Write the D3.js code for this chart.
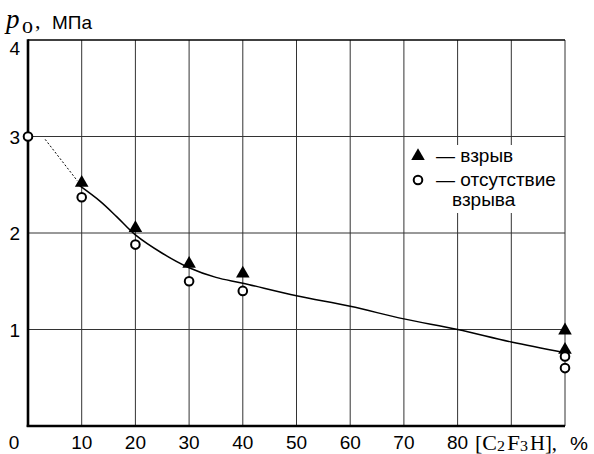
<!DOCTYPE html>
<html><head><meta charset="utf-8">
<script src="https://cdn.jsdelivr.net/npm/d3@7"></script>
<style>body{margin:0;background:#fff}svg{display:block}</style>
</head><body>
<svg id="c" width="594" height="454"></svg>
<script>
const xTickValues = [0,10,20,30,40,50,60,70,80,90,100];
const xTickLabels = ["0","10","20","30","40","50","60","70","80"];
const yTickValues = [1,2,3,4];
const yTickLabels = ["1","2","3","4"];
const explosionX = [10,20,30,40,100,100];
const explosionY = [2.52,2.05,1.68,1.58,0.99,0.79];
const noExplX = [0,10,20,30,40,100,100];
const noExplY = [3.0,2.37,1.88,1.50,1.40,0.72,0.60];
const curveX = [9.6,13.4,16.5,20,25,30,35,40,50,60,70,80,90,100];
const curveY = [2.49,2.33,2.17,1.98,1.79,1.64,1.54,1.48,1.35,1.24,1.11,1.0,0.87,0.76];
const dotX = [3.2,9.2];
const dotY = [2.97,2.54];
const legendLabels = ["— взрыв","— отсутствие","взрыва"];

const svg = d3.select("#c");
const x = d3.scaleLinear().domain([0,100]).range([28,565]);
const y = d3.scaleLinear().domain([0,4]).range([426,40]);
const font = "Arial, 'Liberation Sans', sans-serif";
const serif = "'Liberation Serif','DejaVu Serif',serif";

// grid
const g = svg.append("g");
g.selectAll(".vg").data(xTickValues.slice(1)).join("line")
  .attr("x1",d=>x(d)).attr("x2",d=>x(d)).attr("y1",y(0)).attr("y2",y(4))
  .attr("stroke","#333").attr("stroke-width",1);
g.selectAll(".hg").data(yTickValues.slice(0,3)).join("line")
  .attr("x1",x(0)).attr("x2",x(100)).attr("y1",d=>y(d)).attr("y2",d=>y(d))
  .attr("stroke","#333").attr("stroke-width",1);
// top border
svg.append("line").attr("x1",x(0)).attr("x2",x(100)).attr("y1",y(4)).attr("y2",y(4))
  .attr("stroke","#000").attr("stroke-width",1.6);
// axes
svg.append("line").attr("x1",x(0)).attr("x2",x(0)).attr("y1",y(0)+1).attr("y2",y(4)-0.8)
  .attr("stroke","#000").attr("stroke-width",2.6);
svg.append("line").attr("x1",x(0)-1.3).attr("x2",x(100)).attr("y1",y(0)).attr("y2",y(0))
  .attr("stroke","#000").attr("stroke-width",2.6);

// legend background
svg.append("rect").attr("x",410).attr("y",145).attr("width",148).attr("height",68).attr("fill","#fff");

// tick labels
svg.selectAll(".xt").data(xTickLabels).join("text")
  .attr("x",(d,i)=> i===0 ? x(+d)-14 : x(+d)).attr("y",449)
  .attr("text-anchor","middle").attr("font-family",font).attr("font-size",19).text(d=>d);
svg.selectAll(".yt").data(yTickLabels).join("text")
  .attr("x",20).attr("y",d=> +d===4 ? y(+d)+15 : y(+d)+7)
  .attr("text-anchor","end").attr("font-family",font).attr("font-size",19).text(d=>d);

// axis titles
svg.append("text").attr("x",6).attr("y",28).attr("font-family",serif).attr("font-style","italic")
  .attr("font-size",27).text("p");
svg.append("text").attr("x",22).attr("y",33).attr("font-family",serif).attr("font-size",17)
  .attr("textLength",11).attr("lengthAdjust","spacingAndGlyphs").text("0");
svg.append("text").attr("x",35).attr("y",28).attr("font-family",serif).attr("font-size",22).text(",");
svg.append("text").attr("x",52).attr("y",29).attr("font-family",font).attr("font-size",19)
  .attr("textLength",40).attr("lengthAdjust","spacingAndGlyphs").text("МПа");

const xl = [["[C",475,450,21,22,serif],["2",497,451,15,8,serif],["F",507,450,21,13,serif],
            ["3",520,451,15,8,serif],["H],",530,450,21,27,serif],["%",570,450,19,18,font]];
svg.selectAll(".xl").data(xl).join("text")
  .attr("x",d=>d[1]).attr("y",d=>d[2]).attr("font-size",d=>d[3])
  .attr("textLength",d=>d[4]).attr("lengthAdjust","spacingAndGlyphs")
  .attr("font-family",d=>d[5]).text(d=>d[0]);

// curves
const line = d3.line().x(d=>x(d[0])).y(d=>y(d[1])).curve(d3.curveCatmullRom);
svg.append("path").datum(curveX.map((v,i)=>[v,curveY[i]])).attr("d",line)
  .attr("fill","none").attr("stroke","#000").attr("stroke-width",1.5);
svg.append("path").datum(dotX.map((v,i)=>[v,dotY[i]])).attr("d",line)
  .attr("fill","none").attr("stroke","#000").attr("stroke-width",1).attr("stroke-dasharray","2,2");

// markers
const tri = d3.symbol().type(d3.symbolTriangle).size(80);
svg.selectAll(".tri").data(explosionX.map((v,i)=>[v,explosionY[i]])).join("path")
  .attr("d",tri).attr("transform",d=>`translate(${x(d[0])},${y(d[1])})`).attr("fill","#000");
svg.selectAll(".cir").data(noExplX.map((v,i)=>[v,noExplY[i]])).join("circle")
  .attr("cx",d=>x(d[0])).attr("cy",d=>y(d[1])).attr("r",4.3)
  .attr("fill","#fff").attr("stroke","#000").attr("stroke-width",2);

// legend
svg.append("path").attr("d",tri).attr("transform","translate(418,156)").attr("fill","#000");
svg.append("circle").attr("cx",418).attr("cy",180).attr("r",4.3).attr("fill","#fff").attr("stroke","#000").attr("stroke-width",2);
svg.append("text").attr("x",436).attr("y",162).attr("font-family",font).attr("font-size",19).text(legendLabels[0]);
svg.append("text").attr("x",436).attr("y",186).attr("font-family",font).attr("font-size",19).text(legendLabels[1]);
svg.append("text").attr("x",452).attr("y",206).attr("font-family",font).attr("font-size",19).text(legendLabels[2]);
</script>
</body></html>
